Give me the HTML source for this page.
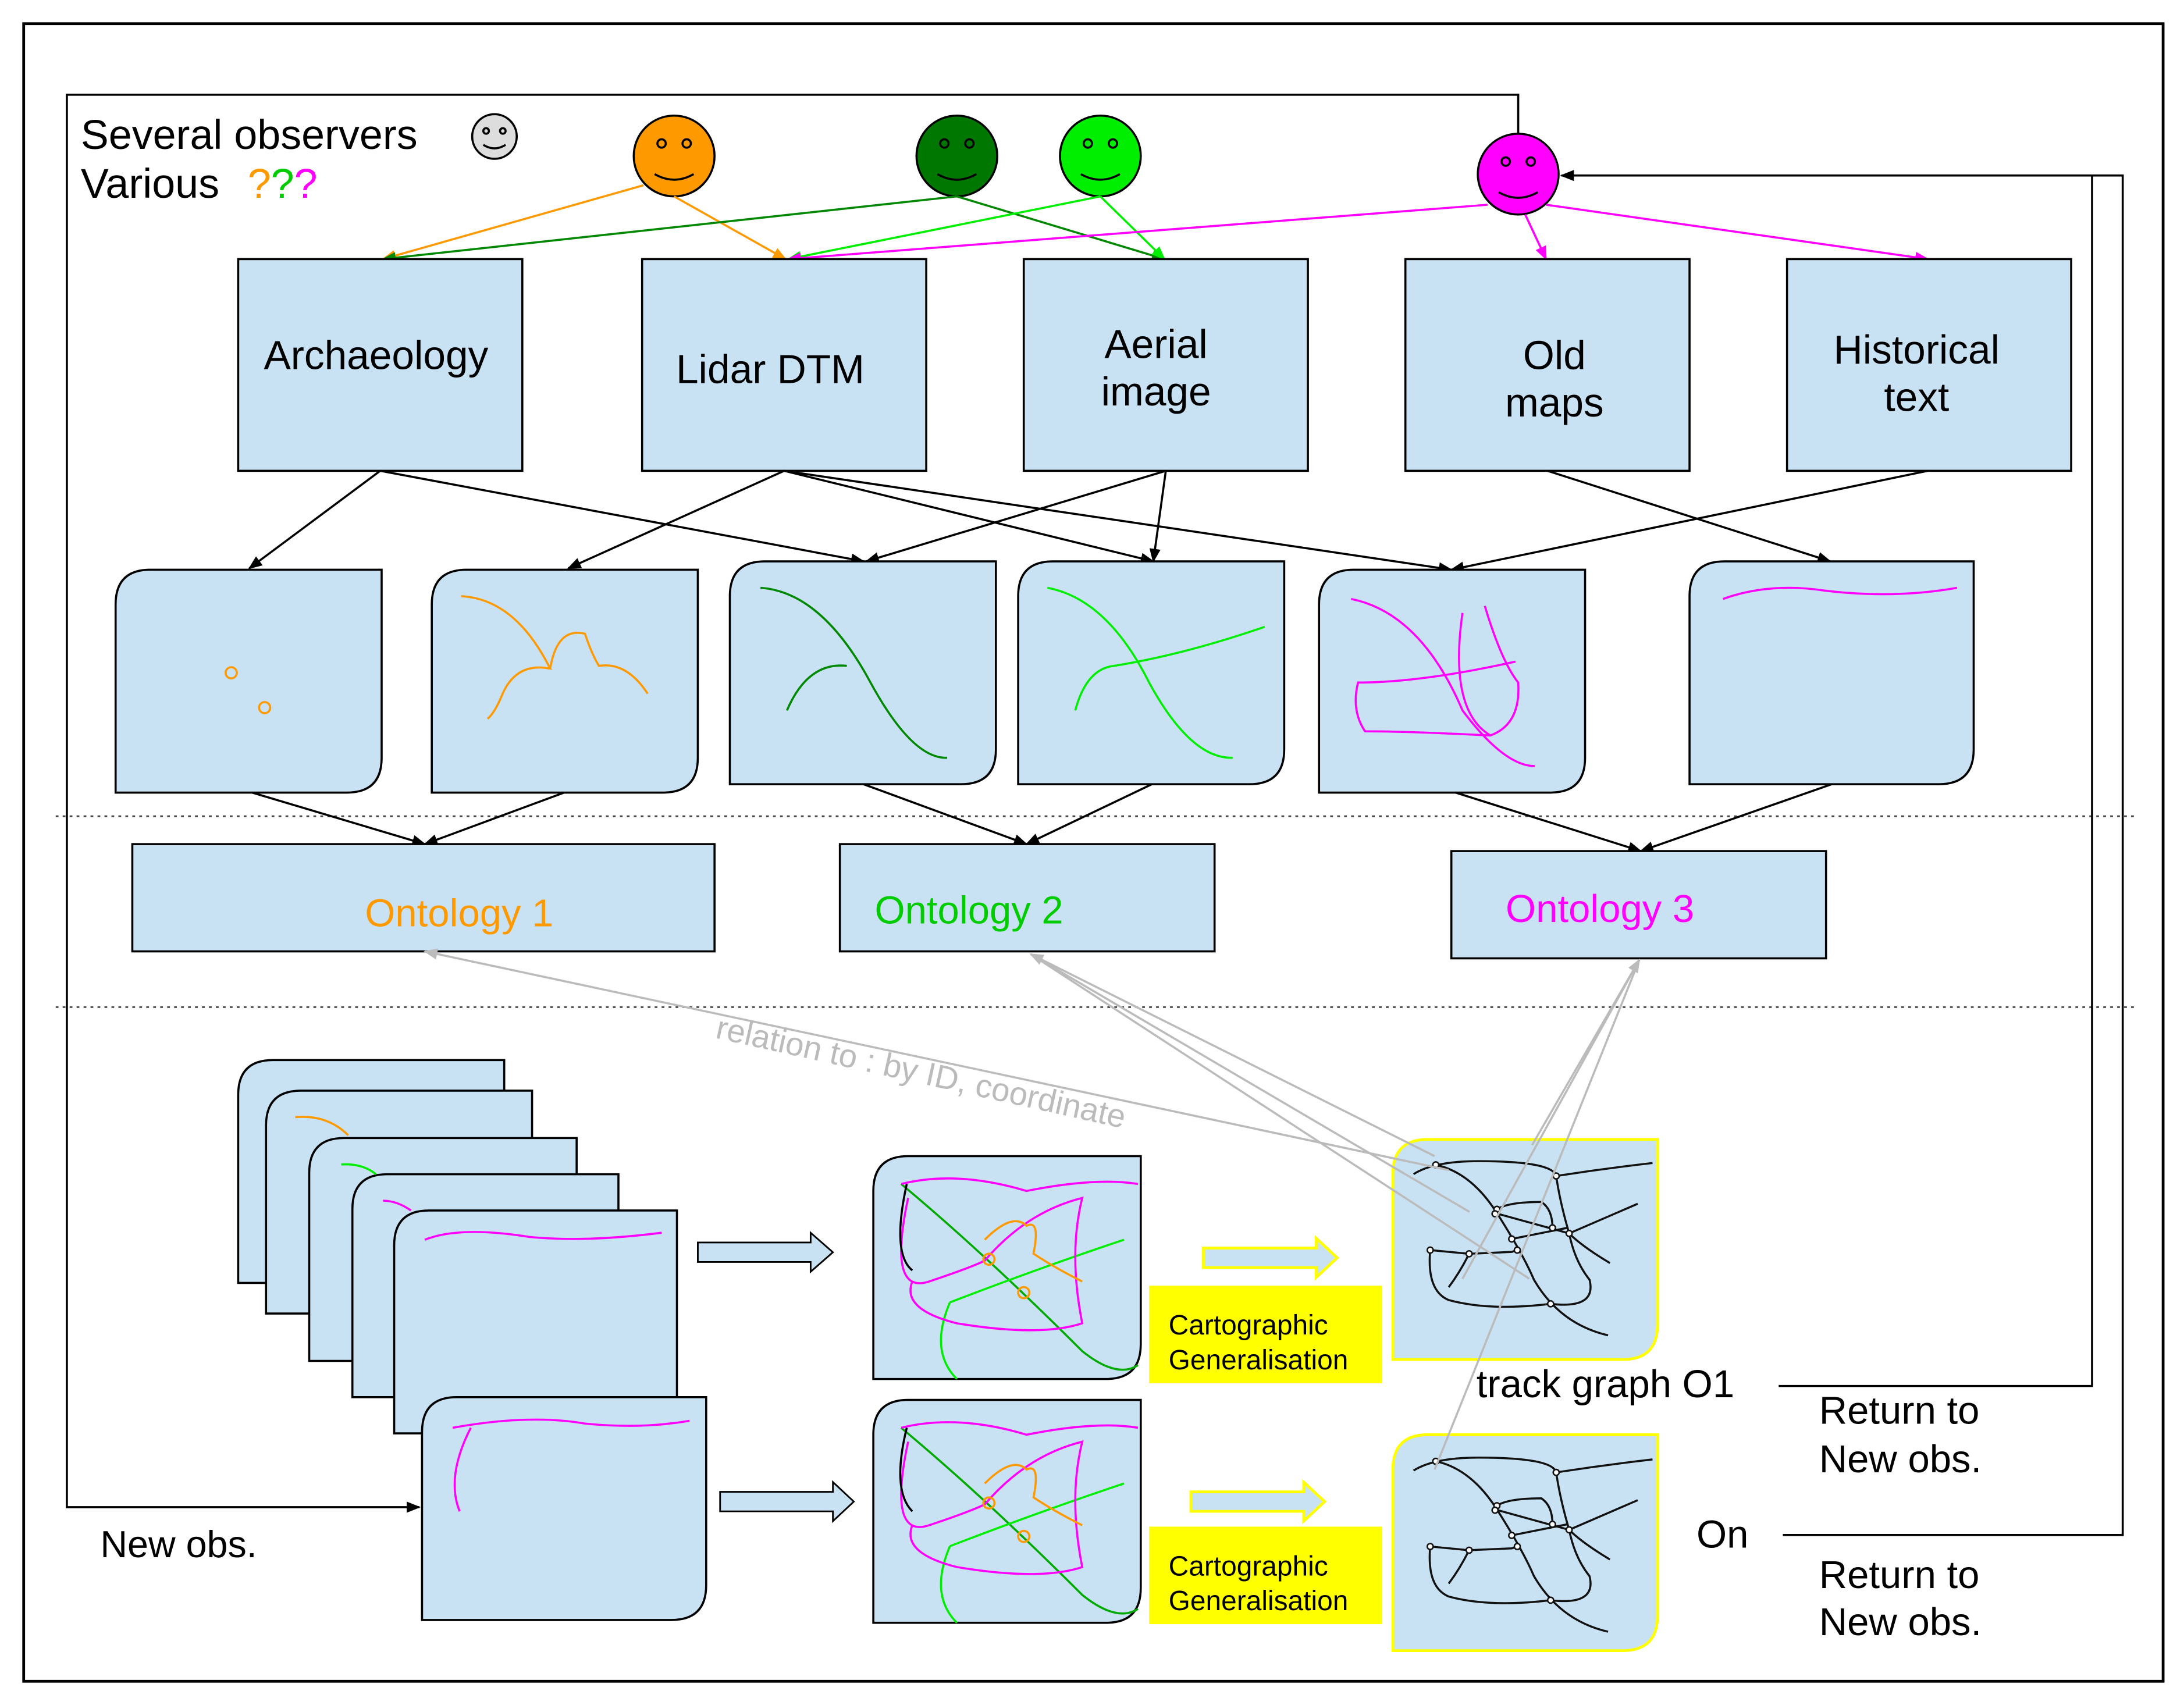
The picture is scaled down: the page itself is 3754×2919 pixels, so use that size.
<!DOCTYPE html>
<html><head><style>html,body{margin:0;padding:0;background:#fff}svg{display:block}</style></head><body>
<svg width="3754" height="2919" viewBox="0 0 1568 1219" preserveAspectRatio="none" xmlns="http://www.w3.org/2000/svg" font-family="Liberation Sans, sans-serif">
<defs>
<marker id="ab" markerWidth="10" markerHeight="8" refX="9" refY="4" orient="auto" markerUnits="userSpaceOnUse"><path d="M0,0 L10,4 L0,8 Z" fill="#000"/></marker>
<marker id="ao" markerWidth="10" markerHeight="8" refX="9" refY="4" orient="auto" markerUnits="userSpaceOnUse"><path d="M0,0 L10,4 L0,8 Z" fill="#f90"/></marker>
<marker id="ag" markerWidth="10" markerHeight="8" refX="9" refY="4" orient="auto" markerUnits="userSpaceOnUse"><path d="M0,0 L10,4 L0,8 Z" fill="#080"/></marker>
<marker id="al" markerWidth="10" markerHeight="8" refX="9" refY="4" orient="auto" markerUnits="userSpaceOnUse"><path d="M0,0 L10,4 L0,8 Z" fill="#0e0"/></marker>
<marker id="am" markerWidth="10" markerHeight="8" refX="9" refY="4" orient="auto" markerUnits="userSpaceOnUse"><path d="M0,0 L10,4 L0,8 Z" fill="#f0f"/></marker>
<marker id="ay" markerWidth="10" markerHeight="8" refX="9" refY="4" orient="auto" markerUnits="userSpaceOnUse"><path d="M0,0 L10,4 L0,8 Z" fill="#bbb"/></marker>
<g id="graph" fill="none" stroke="#111" stroke-width="5.5">
<path d="M125,185 Q180,150 300,150 Q500,150 510,190 Q640,170 770,155"/>
<path d="M185,160 Q280,180 350,290 Q420,400 450,470 Q520,590 650,620"/>
<path d="M350,280 Q380,260 470,260 Q500,280 500,330"/>
<path d="M345,290 L545,345 L730,265"/>
<path d="M510,190 Q520,260 545,345 Q580,380 655,425"/>
<path d="M170,390 L275,400 L390,395 L405,390"/>
<path d="M170,390 Q160,500 220,525 Q330,555 495,535 Q620,550 600,470 Q560,420 545,345"/>
<path d="M275,400 Q250,450 220,490"/>
<path d="M390,360 L540,330"/>
<g fill="#fff" stroke-width="4"><circle cx="185" cy="160" r="8"/><circle cx="510" cy="190" r="8"/><circle cx="350" cy="280" r="8"/><circle cx="345" cy="292" r="8"/><circle cx="500" cy="330" r="8"/><circle cx="545" cy="345" r="8"/><circle cx="390" cy="360" r="8"/><circle cx="405" cy="390" r="8"/><circle cx="170" cy="390" r="8"/><circle cx="275" cy="400" r="8"/><circle cx="495" cy="535" r="8"/></g>
</g>
<g id="mix" fill="none" stroke-width="1.5">
<path d="M20,20 Q80,70 150,140 Q175,160 190,150" stroke="#0a0"/>
<path d="M20,20 Q60,10 110,25 Q160,15 190,20" stroke="#f0f"/>
<path d="M55,105 Q120,80 180,60" stroke="#0e0"/>
<path d="M55,105 Q40,140 60,160" stroke="#0e0"/>
<path d="M25,30 Q10,100 40,90 Q70,80 80,75 Q110,40 150,30 Q140,70 150,120 Q120,130 60,120 Q20,110 28,90" stroke="#f0f"/>
<path d="M80,60 Q100,40 110,50 Q120,45 115,70 Q130,80 150,90" stroke="#f90"/>
<circle cx="83" cy="74" r="4" stroke="#f90"/><circle cx="108" cy="98" r="4" stroke="#f90"/>
</g>
</defs>
<rect x="17" y="17" width="1536" height="1190" fill="none" stroke="#000" stroke-width="2"/>
<path d="M1090,96 V68 H48 V1082 H301" fill="none" stroke="#000" stroke-width="1.5" marker-end="url(#ab)"/>
<text x="58" y="107" font-size="30">Several observers</text>
<text x="58" y="142" font-size="30">Various <tspan dx="12" fill="#f90">?</tspan><tspan fill="#0c0">?</tspan><tspan fill="#f0f">?</tspan></text>
<g stroke="#000" stroke-width="1.5">
<circle cx="355" cy="98" r="16" fill="#ddd"/>
<circle cx="484" cy="112" r="29" fill="#f90"/>
<circle cx="687" cy="112" r="29" fill="#070"/>
<circle cx="790" cy="112" r="29" fill="#0e0"/>
<circle cx="1090" cy="125" r="29" fill="#f0f"/>
</g>
<g fill="none" stroke="#000" stroke-width="1.5">
<circle cx="349" cy="94" r="2"/><circle cx="361" cy="94" r="2"/><path d="M347,104 Q355,109 363,104"/>
<circle cx="475" cy="103" r="3"/><circle cx="493" cy="103" r="3"/><path d="M470,125 Q484,133 498,125"/>
<circle cx="678" cy="103" r="3"/><circle cx="696" cy="103" r="3"/><path d="M673,125 Q687,133 701,125"/>
<circle cx="781" cy="103" r="3"/><circle cx="799" cy="103" r="3"/><path d="M776,125 Q790,133 804,125"/>
<circle cx="1081" cy="116" r="3"/><circle cx="1099" cy="116" r="3"/><path d="M1076,138 Q1090,146 1104,138"/>
</g>
<g stroke-width="1.5" fill="none">
<path d="M462,133 L275,186" stroke="#f90" marker-end="url(#ao)"/>
<path d="M484,141 L564,186" stroke="#f90" marker-end="url(#ao)"/>
<path d="M687,141 L275,186" stroke="#080" marker-end="url(#ag)"/>
<path d="M687,141 L836,186" stroke="#080" marker-end="url(#ag)"/>
<path d="M790,141 L566,186" stroke="#0e0" marker-end="url(#al)"/>
<path d="M790,141 L836,186" stroke="#0e0" marker-end="url(#al)"/>
<path d="M1068,147 L566,186" stroke="#f0f" marker-end="url(#am)"/>
<path d="M1095,154 L1110,186" stroke="#f0f" marker-end="url(#am)"/>
<path d="M1110,147 L1384,186" stroke="#f0f" marker-end="url(#am)"/>
</g>
<g fill="#c9e2f3" stroke="#000" stroke-width="1.5">
<rect x="171" y="186" width="204" height="152"/>
<rect x="461" y="186" width="204" height="152"/>
<rect x="735" y="186" width="204" height="152"/>
<rect x="1009" y="186" width="204" height="152"/>
<rect x="1283" y="186" width="204" height="152"/>
</g>
<g font-size="29" text-anchor="middle">
<text x="270" y="265">Archaeology</text>
<text x="553" y="275">Lidar DTM</text>
<text x="830" y="257">Aerial</text><text x="830" y="291">image</text>
<text x="1116" y="265">Old</text><text x="1116" y="299">maps</text>
<text x="1376" y="261">Historical</text><text x="1376" y="295">text</text>
</g>
<g stroke="#000" stroke-width="1.5" fill="none" marker-end="url(#ab)">
<path d="M273,338 L179,408"/>
<path d="M273,338 L620,403"/>
<path d="M563,338 L408,408"/>
<path d="M563,338 L828,403"/>
<path d="M563,338 L1042,409"/>
<path d="M837,338 L622,403"/>
<path d="M837,338 L828,403"/>
<path d="M1384,338 L1042,409"/>
<path d="M1111,338 L1314,403"/>
</g>
<g fill="#c9e2f3" stroke="#000" stroke-width="1.5">
<path d="M108,409 H274 V544 Q274,569 249,569 H83 V434 Q83,409 108,409 Z"/>
<path d="M335,409 H501 V544 Q501,569 476,569 H310 V434 Q310,409 335,409 Z"/>
<path d="M549,403 H715 V538 Q715,563 690,563 H524 V428 Q524,403 549,403 Z"/>
<path d="M756,403 H922 V538 Q922,563 897,563 H731 V428 Q731,403 756,403 Z"/>
<path d="M972,409 H1138 V544 Q1138,569 1113,569 H947 V434 Q947,409 972,409 Z"/>
<path d="M1238,403 H1417 V538 Q1417,563 1392,563 H1213 V428 Q1213,403 1238,403 Z"/>
</g>
<g fill="none" stroke-width="1.5">
<circle cx="166" cy="483" r="4" stroke="#f90"/><circle cx="190" cy="508" r="4" stroke="#f90"/>
<path d="M331,428 Q370,430 395,480 Q370,475 360,500 Q355,512 350,516 M395,480 Q400,450 420,455 Q425,470 430,478 Q450,475 465,498" stroke="#f90"/>
<path d="M546,422 Q590,425 625,490 Q655,545 680,544 M565,510 Q580,475 608,478" stroke="#080"/>
<path d="M752,422 Q795,430 825,490 Q855,545 885,544 M772,510 Q780,480 800,478 Q850,470 908,450" stroke="#0e0"/>
<path d="M970,430 Q1020,440 1050,510 Q1080,550 1102,550 M1066,435 Q1078,475 1090,490 Q1092,520 1070,528 Q1010,525 980,525 Q970,510 975,490 Q1020,490 1088,475 M1070,528 Q1040,510 1050,440" stroke="#f0f"/>
<path d="M1237,430 Q1270,418 1310,424 Q1360,430 1405,422" stroke="#f0f"/>
</g>
<g stroke="#444" stroke-width="1.2" stroke-dasharray="2,3"><path d="M40,586 H1535"/><path d="M40,723 H1535"/></g>
<g stroke="#000" stroke-width="1.5" fill="none" marker-end="url(#ab)">
<path d="M181,569 L305,606"/><path d="M405,569 L305,606"/>
<path d="M620,563 L737,606"/><path d="M827,563 L737,606"/>
<path d="M1045,569 L1178,611"/><path d="M1315,563 L1178,611"/>
</g>
<g fill="#c9e2f3" stroke="#000" stroke-width="1.5">
<rect x="95" y="606" width="418" height="77"/>
<rect x="603" y="606" width="269" height="77"/>
<rect x="1042" y="611" width="269" height="77"/>
</g>
<text x="262" y="665" font-size="28" fill="#f90">Ontology 1</text>
<text x="628" y="663" font-size="28" fill="#0c0">Ontology 2</text>
<text x="1081" y="662" font-size="28" fill="#f0f">Ontology 3</text>
<g fill="#c9e2f3" stroke="#000" stroke-width="1.5">
<path d="M196,761 H362 V896 Q362,921 337,921 H171 V786 Q171,761 196,761 Z"/>
<path d="M216,783 H382 V918 Q382,943 357,943 H191 V808 Q191,783 216,783 Z"/>
<path d="M247,817 H414 V952 Q414,977 389,977 H222 V842 Q222,817 247,817 Z"/>
<path d="M278,843 H444 V978 Q444,1003 419,1003 H253 V868 Q253,843 278,843 Z"/>
<path d="M308,869 H486 V1004 Q486,1029 461,1029 H283 V894 Q283,869 308,869 Z"/>
</g>
<g fill="none" stroke-width="1.5">
<path d="M212,802 Q235,800 250,815" stroke="#f90"/>
<path d="M245,836 Q260,835 270,843" stroke="#0e0"/>
<path d="M275,862 Q285,862 295,869" stroke="#f0f"/>
<path d="M305,890 Q330,880 380,888 Q420,892 475,885" stroke="#f0f"/>
</g>
<path d="M328,1003 H507 V1138 Q507,1163 482,1163 H303 V1028 Q303,1003 328,1003 Z" fill="#c9e2f3" stroke="#000" stroke-width="1.5"/>
<path d="M325,1025 Q380,1015 420,1022 Q460,1026 495,1020 M338,1025 Q320,1060 330,1085" fill="none" stroke="#f0f" stroke-width="1.5"/>
<g fill="#c9e2f3" stroke="#000" stroke-width="1.2">
<path d="M501,892 H582 V885 L598,899 L582,913 V906 H501 Z"/>
<path d="M517,1071 H598 V1064 L613,1078 L598,1092 V1085 H517 Z"/>
</g>
<g fill="#c9e2f3" stroke="#ff0" stroke-width="2">
<path d="M864,896 H945 V889 L960,903 L945,917 V910 H864 Z"/>
<path d="M855,1071 H936 V1064 L951,1078 L936,1092 V1085 H855 Z"/>
</g>
<g fill="#c9e2f3" stroke="#000" stroke-width="1.5">
<path d="M652,830 H819 V965 Q819,990 794,990 H627 V855 Q627,830 652,830 Z"/>
<path d="M652,1005 H819 V1140 Q819,1165 794,1165 H627 V1030 Q627,1005 652,1005 Z"/>
</g>
<use href="#mix" x="627" y="830"/>
<use href="#mix" x="627" y="1005"/>
<path d="M651,850 Q640,900 655,912 M651,1025 Q640,1070 655,1085" fill="none" stroke="#000" stroke-width="1.5"/>
<g fill="#ff0"><rect x="825" y="923" width="167" height="70"/><rect x="825" y="1096" width="167" height="70"/></g>
<g font-size="20"><text x="839" y="958">Cartographic</text><text x="839" y="983">Generalisation</text><text x="839" y="1131">Cartographic</text><text x="839" y="1156">Generalisation</text></g>
<path d="M1025,818 H1190 V951 Q1190,976 1165,976 H1000 V843 Q1000,818 1025,818 Z" fill="#c9e2f3" stroke="#ff0" stroke-width="2"/>
<path d="M1025,1030 H1190 V1160 Q1190,1185 1165,1185 H1000 V1055 Q1000,1030 1025,1030 Z" fill="#c9e2f3" stroke="#ff0" stroke-width="2"/>
<g transform="translate(981.6,793.7) scale(0.266)"><use href="#graph"/></g>
<g transform="translate(981.6,1006.5) scale(0.266)"><use href="#graph"/></g>
<g stroke="#bbb" stroke-width="1.5" fill="none">
<path d="M1040,840 L305,683" marker-end="url(#ay)"/>
<path d="M1030,830 L740,685" marker-end="url(#ay)"/>
<path d="M1055,870 L740,685"/>
<path d="M1098,918 L740,685"/>
<path d="M1100,822 L1177,689" marker-end="url(#ay)"/>
<path d="M1050,918 L1177,689"/>
<path d="M1030,1055 L1177,689"/>
</g>
<text x="513" y="745" font-size="23.5" fill="#bbb" transform="rotate(12.5 513 745)">relation to : by ID, coordinate</text>
<text x="1060" y="1003" font-size="28">track graph O1</text>
<text x="1306" y="1022" font-size="28">Return to</text><text x="1306" y="1057" font-size="28">New obs.</text>
<text x="1218" y="1111" font-size="28">On</text>
<text x="1306" y="1140" font-size="28">Return to</text><text x="1306" y="1174" font-size="28">New obs.</text>
<text x="72" y="1118" font-size="27">New obs.</text>
<g stroke="#000" stroke-width="1.5" fill="none">
<path d="M1277,995 H1502 V126"/>
<path d="M1280,1102 H1524 V126 H1121" marker-end="url(#ab)"/>
</g>
</svg>
</body></html>
